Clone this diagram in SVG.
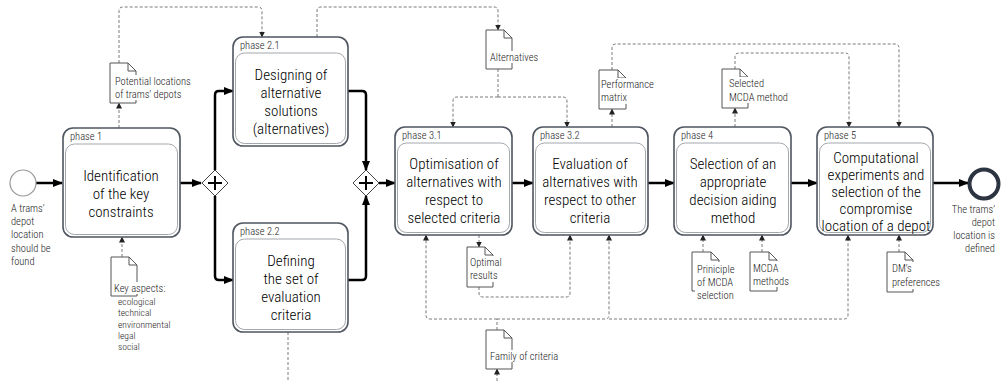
<svg xmlns="http://www.w3.org/2000/svg" width="1002" height="381" viewBox="0 0 1002 381">
<defs>
<style>
text{font-family:"Roboto Condensed","Liberation Sans Narrow","DejaVu Sans Condensed","Liberation Sans",sans-serif;fill:#222;font-weight:300}
.t{font-size:15px;text-anchor:middle;fill:#000}
.ph{font-size:10.5px}
.s{font-size:10.5px}
.xs{font-size:9.5px}
.outer{fill:#fff;stroke:#4f5660;stroke-width:1.6}
.inner{fill:none;stroke:#a3a8ad;stroke-width:1}
.seq{fill:none;stroke:#000;stroke-width:2.5;marker-end:url(#ah)}
.da{fill:none;stroke:#7a7a7a;stroke-width:1;stroke-dasharray:3 2;marker-end:url(#dh)}
.dl{fill:none;stroke:#7a7a7a;stroke-width:1;stroke-dasharray:3 2}
.doc{fill:#fff;stroke:#555;stroke-width:1}
.gw{fill:#fff;stroke:#444;stroke-width:1}
.plus{stroke:#000;stroke-width:2}
</style>
<marker id="ah" markerUnits="userSpaceOnUse" markerWidth="10" markerHeight="10" refX="9" refY="5" orient="auto"><path d="M0,1 L10,5 L0,9 z" fill="#000"/></marker>
<marker id="dh" markerUnits="userSpaceOnUse" markerWidth="6" markerHeight="6" refX="5.5" refY="3" orient="auto"><path d="M0,0 L6,3 L0,6 z" fill="#222"/></marker>
</defs>

<g id="connectors">
<path class="seq" d="M36,183 H62"/>
<path class="seq" d="M180,183 H201"/>
<path class="seq" d="M215,170 V95 Q215,91 219,91 H233"/>
<path class="seq" d="M215,196 V276 Q215,280 219,280 H233"/>
<path class="seq" d="M348,91 H362 Q366,91 366,95 V170"/>
<path class="seq" d="M348,280 H362 Q366,280 366,276 V196"/>
<path class="seq" d="M379,183 H395"/>
<path class="seq" d="M512,183 H533"/>
<path class="seq" d="M648,183 H674"/>
<path class="seq" d="M791,183 H817"/>
<path class="seq" d="M933,183 H968"/>

<path class="da" d="M119,128 V103"/>
<path class="da" d="M119,63 V11 Q119,7 123,7 H258 Q262,7 262,11 V37"/>
<path class="da" d="M317,37 V11 Q317,7 321,7 H494 Q498,7 498,11 V30"/>
<path class="dl" d="M498,69 V97"/>
<path class="da" d="M498,97 H457 Q453,97 453,101 V127"/>
<path class="da" d="M498,97 H563 Q567,97 567,101 V127"/>
<path class="da" d="M612,127 V109"/>
<path class="da" d="M612,70 V48 Q612,44 616,44 H895 Q899,44 899,48 V127"/>
<path class="da" d="M735,127 V108"/>
<path class="da" d="M735,69 V57 Q735,53 739,53 H845 Q849,53 849,57 V127"/>
<path class="da" d="M479,235 V247"/>
<path class="da" d="M479,287 V293 Q479,297 483,297 H566 Q570,297 570,293 V235"/>
<path class="dl" d="M497,330 V319"/>
<path class="da" d="M497,319 H430 Q426,319 426,315 V235"/>
<path class="da" d="M497,319 H605 Q609,319 609,315 V235"/>
<path class="da" d="M609,319 H844 Q848,319 848,315 V235"/>
<path class="da" d="M497,381 V369"/>
<path class="dl" d="M288,332 V381"/>
<path class="da" d="M122,257 V237"/>
<path class="da" d="M703,252 V235"/>
<path class="da" d="M762,252 V235"/>
<path class="da" d="M899,252 V235"/>
</g>

<g id="start">
<circle cx="23" cy="183" r="13" fill="#fff" stroke="#999" stroke-width="1.2"/>
<text class="s" x="11" y="212">A trams’</text>
<text class="s" x="11" y="225">depot</text>
<text class="s" x="11" y="238">location</text>
<text class="s" x="11" y="252">should be</text>
<text class="s" x="11" y="265">found</text>
</g>

<g id="end">
<circle cx="984" cy="184" r="14.5" fill="#fff" stroke="#2b3440" stroke-width="4"/>
<text class="s" x="995" y="213" text-anchor="end">The trams’</text>
<text class="s" x="995" y="226" text-anchor="end">depot</text>
<text class="s" x="995" y="239" text-anchor="end">location is</text>
<text class="s" x="995" y="252" text-anchor="end">defined</text>
</g>

<g id="gateway1">
<path class="gw" d="M215,170 L228,183 L215,196 L202,183 Z"/>
<path class="plus" d="M215,176 V190 M208,183 H222"/>
</g>
<g id="gateway2">
<path class="gw" d="M366,170 L379,183 L366,196 L353,183 Z"/>
<path class="plus" d="M366,176 V190 M359,183 H373"/>
</g>

<g id="phase1">
<rect class="outer" x="63" y="128" width="117" height="109" rx="10"/>
<rect class="inner" x="65.5" y="144" width="112" height="90.5" rx="9"/>
<text class="ph" x="70" y="140">phase 1</text>
<text class="t" x="121" y="181">Identification</text>
<text class="t" x="121" y="199">of the key</text>
<text class="t" x="121" y="217">constraints</text>
</g>

<g id="phase2-1">
<rect class="outer" x="233" y="37" width="115" height="109" rx="10"/>
<rect class="inner" x="235.5" y="53" width="110" height="90.5" rx="9"/>
<text class="ph" x="240" y="49">phase 2.1</text>
<text class="t" x="291" y="80">Designing of</text>
<text class="t" x="291" y="98">alternative</text>
<text class="t" x="291" y="116">solutions</text>
<text class="t" x="291" y="134">(alternatives)</text>
</g>

<g id="phase2-2">
<rect class="outer" x="233" y="223" width="115" height="109" rx="10"/>
<rect class="inner" x="235.5" y="239" width="110" height="90.5" rx="9"/>
<text class="ph" x="240" y="235">phase 2.2</text>
<text class="t" x="291" y="266">Defining</text>
<text class="t" x="291" y="284">the set of</text>
<text class="t" x="291" y="302">evaluation</text>
<text class="t" x="291" y="320">criteria</text>
</g>

<g id="phase3-1">
<rect class="outer" x="395" y="127" width="117" height="108" rx="10"/>
<rect class="inner" x="397.5" y="143" width="112" height="89.5" rx="9"/>
<text class="ph" x="402" y="139">phase 3.1</text>
<text class="t" x="454" y="169">Optimisation of</text>
<text class="t" x="454" y="187">alternatives with</text>
<text class="t" x="454" y="205">respect to</text>
<text class="t" x="454" y="223">selected criteria</text>
</g>

<g id="phase3-2">
<rect class="outer" x="533" y="127" width="115" height="108" rx="10"/>
<rect class="inner" x="535.5" y="143" width="110" height="89.5" rx="9"/>
<text class="ph" x="540" y="139">phase 3.2</text>
<text class="t" x="590" y="169">Evaluation of</text>
<text class="t" x="590" y="187">alternatives with</text>
<text class="t" x="590" y="205">respect to other</text>
<text class="t" x="590" y="223">criteria</text>
</g>

<g id="phase4">
<rect class="outer" x="674" y="127" width="117" height="108" rx="10"/>
<rect class="inner" x="676.5" y="143" width="112" height="89.5" rx="9"/>
<text class="ph" x="681" y="139">phase 4</text>
<text class="t" x="733" y="169">Selection of an</text>
<text class="t" x="733" y="187">appropriate</text>
<text class="t" x="733" y="205">decision aiding</text>
<text class="t" x="733" y="223">method</text>
</g>

<g id="phase5">
<rect class="outer" x="817" y="127" width="116" height="108" rx="10"/>
<rect class="inner" x="819.5" y="143" width="111" height="89.5" rx="9"/>
<text class="ph" x="824" y="139">phase 5</text>
<text class="t" x="876" y="163">Computational</text>
<text class="t" x="876" y="180">experiments and</text>
<text class="t" x="876" y="197">selection of the</text>
<text class="t" x="876" y="214">compromise</text>
<text class="t" x="876" y="231">location of a depot</text>
</g>

<g id="doc-potential">
<path class="doc" d="M110,63 H128 L136,71 V103 H110 Z M128,63 V71 H136"/>
<rect x="114" y="75" width="76" height="25" fill="#fff"/>
<text class="s" x="115" y="85">Potential locations</text>
<text class="s" x="115" y="98">of trams’ depots</text>
</g>

<g id="doc-key">
<path class="doc" d="M111,257 H129 L137,265 V296 H111 Z M129,257 V265 H137"/>
<rect x="113" y="282" width="54" height="12" fill="#fff"/>
<text class="s" x="114" y="292">Key aspects:</text>
<text class="xs" x="118" y="305">ecological</text>
<text class="xs" x="118" y="316">technical</text>
<text class="xs" x="118" y="328">environmental</text>
<text class="xs" x="118" y="339">legal</text>
<text class="xs" x="118" y="350">social</text>
</g>

<g id="doc-alternatives">
<path class="doc" d="M486,30 H504 L512,38 V69 H486 Z M504,30 V38 H512"/>
<rect x="489" y="51" width="50" height="12" fill="#fff"/>
<text class="s" x="490" y="61">Alternatives</text>
</g>

<g id="doc-performance">
<path class="doc" d="M599,70 H618 L626,78 V109 H599 Z M618,70 V78 H626"/>
<rect x="600" y="78" width="56" height="26" fill="#fff"/>
<text class="s" x="601" y="88">Performance</text>
<text class="s" x="601" y="101">matrix</text>
</g>

<g id="doc-selected">
<path class="doc" d="M722,69 H740 L748,77 V108 H722 Z M740,69 V77 H748"/>
<rect x="727" y="77" width="64" height="26" fill="#fff"/>
<text class="s" x="729" y="87">Selected</text>
<text class="s" x="729" y="101">MCDA method</text>
</g>

<g id="doc-optimal">
<path class="doc" d="M467,247 H485 L493,255 V287 H467 Z M485,247 V255 H493"/>
<rect x="469" y="256" width="34" height="26" fill="#fff"/>
<text class="s" x="470" y="266">Optimal</text>
<text class="s" x="470" y="279">results</text>
</g>

<g id="doc-family">
<path class="doc" d="M486,330 H504 L512,338 V369 H486 Z M504,330 V338 H512"/>
<rect x="489" y="350" width="70" height="12" fill="#fff"/>
<text class="s" x="490" y="360">Family of criteria</text>
</g>

<g id="doc-principle">
<path class="doc" d="M692,252 H711 L719,260 V291 H692 Z M711,252 V260 H719"/>
<rect x="695" y="262" width="40" height="39" fill="#fff"/>
<text class="s" x="697" y="273">Priniciple</text>
<text class="s" x="697" y="286">of MCDA</text>
<text class="s" x="697" y="299">selection</text>
</g>

<g id="doc-mcda">
<path class="doc" d="M750,252 H769 L777,260 V291 H750 Z M769,252 V260 H777"/>
<rect x="752" y="261" width="38" height="26" fill="#fff"/>
<text class="s" x="753" y="272">MCDA</text>
<text class="s" x="753" y="285">methods</text>
</g>

<g id="doc-dm">
<path class="doc" d="M887,252 H905 L913,260 V292 H887 Z M905,252 V260 H913"/>
<rect x="890" y="262" width="52" height="27" fill="#fff"/>
<text class="s" x="892" y="272">DM’s</text>
<text class="s" x="892" y="286">preferences</text>
</g>
</svg>
